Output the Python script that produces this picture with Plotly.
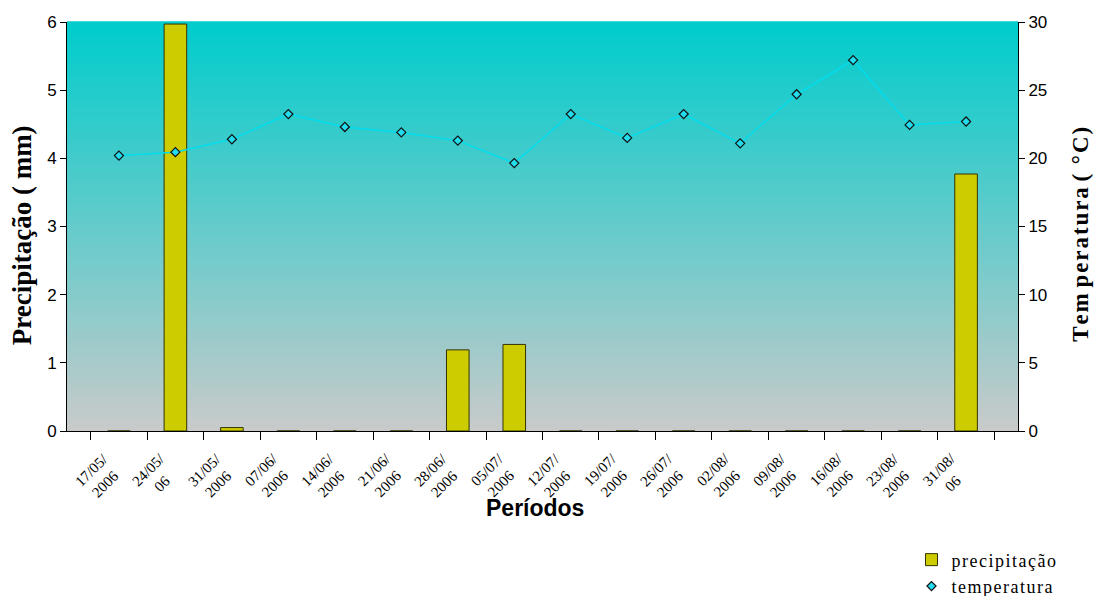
import plotly.graph_objects as go

# Weekly periods, precipitation (mm) and mean temperature (°C)
periodos = ["17/05/<br>2006", "24/05/<br>06", "31/05/<br>2006", "07/06/<br>2006",
            "14/06/<br>2006", "21/06/<br>2006", "28/06/<br>2006", "05/07/<br>2006",
            "12/07/<br>2006", "19/07/<br>2006", "26/07/<br>2006", "02/08/<br>2006",
            "09/08/<br>2006", "16/08/<br>2006", "23/08/<br>2006", "31/08/<br>06"]
precipitacao = [0, 5.97, 0.05, 0, 0, 0, 1.19, 1.27, 0, 0, 0, 0, 0, 0, 0, 3.77]
temperatura = [20.2, 20.45, 21.4, 23.25, 22.3, 21.9, 21.3, 19.65,
               23.25, 21.5, 23.25, 21.1, 24.7, 27.2, 22.45, 22.7]

SERIF = "Liberation Serif"
SANS = "Liberation Sans"
HS = "\u200a"  # hair space used for spaced-out lettering


def spaced(s):
    return HS.join(s)


fig = go.Figure()

fig.add_trace(go.Bar(
    x=periodos, y=precipitacao, name=spaced("precipitação"),
    marker=dict(color="#CCCC00", line=dict(color="#333300", width=1)),
    yaxis="y",
))
fig.add_trace(go.Scatter(
    x=periodos, y=temperatura, mode="lines", showlegend=False,
    line=dict(color="#00DDEE", width=1.5), yaxis="y2", hoverinfo="skip",
))
fig.add_trace(go.Scatter(
    x=periodos, y=temperatura, mode="markers", name=spaced("temperatura"),
    marker=dict(symbol="diamond", size=7, color="#22DDEE",
                line=dict(color="#111111", width=1.2)),
    yaxis="y2",
))

# Vertical gradient background of the plotting area (cyan to grey)
top = (0, 204, 204)
bottom = (200, 202, 202)
n = 120
shapes = []
for i in range(n):
    f = i / (n - 1)
    c = tuple(round(top[k] + (bottom[k] - top[k]) * f) for k in range(3))
    y1 = 1 - i / n
    y0 = 1 - (i + 1) / n
    shapes.append(dict(type="rect", xref="paper", yref="paper", x0=0, x1=1,
                       y0=y0, y1=y1 + 0.002, line=dict(width=0),
                       fillcolor=f"rgb{c}", layer="below"))

# Diagonal period labels under each category
annotations = [dict(
    text=p, x=p, xref="x", y=-0.1125, yref="paper", xshift=-20,
    xanchor="center", yanchor="middle", showarrow=False, textangle=-45,
    font=dict(family=SERIF, size=15, color="black"),
) for p in periodos]

annotations.append(dict(
    text="<b>Períodos</b>", xref="paper", yref="paper", x=0.4925, y=-0.188,
    xanchor="center", yanchor="middle", showarrow=False,
    font=dict(family=SANS, size=23, color="black"),
))

titulo_temp = "<b>" + spaced("Tem") + " " + spaced("peratura") + " " + \
    spaced("( °C)") + "</b>"

# Axis titles placed as rotated annotations (centred ~235 px from the top)
annotations.append(dict(
    text="<b>Precipitação ( mm)</b>", xref="paper", yref="paper",
    x=-0.047, y=(431 - 235) / 409, xanchor="center", yanchor="middle",
    showarrow=False, textangle=-90,
    font=dict(family=SERIF, size=27, color="black"),
))
annotations.append(dict(
    text=titulo_temp, xref="paper", yref="paper",
    x=1.066, y=(431 - 234) / 409, xanchor="center", yanchor="middle",
    showarrow=False, textangle=-90,
    font=dict(family=SERIF, size=23, color="black"),
))

fig.update_layout(
    width=1095, height=596,
    margin=dict(l=67, r=77, t=22, b=165, autoexpand=False),
    paper_bgcolor="white", plot_bgcolor="rgba(0,0,0,0)",
    shapes=shapes,
    annotations=annotations,
    bargap=0.6,
    showlegend=True,
    legend=dict(x=0.888, y=-0.27, xanchor="left", yanchor="top",
                font=dict(family=SERIF, size=18, color="black"),
                bgcolor="rgba(0,0,0,0)", tracegroupgap=2, itemwidth=30),
    xaxis=dict(
        type="category", tickson="boundaries", ticks="outside", ticklen=8,
        tickcolor="black", showline=True, linecolor="black", linewidth=1,
        showgrid=False, automargin=False, showticklabels=False,
    ),
    yaxis=dict(
        range=[0, 6], dtick=1, ticks="outside", ticklen=6, tickcolor="black",
        showline=True, linecolor="black", linewidth=1, showgrid=False,
        zeroline=False, automargin=False,
        tickfont=dict(family=SANS, size=17, color="black"),
    ),
    yaxis2=dict(
        range=[0, 30], dtick=5, overlaying="y", side="right", ticks="outside",
        ticklen=6, tickcolor="black", showline=True, linecolor="black",
        linewidth=1, showgrid=False, zeroline=False, automargin=False,
        tickfont=dict(family=SANS, size=17, color="black"),
    ),
)

fig.write_html("out.html")
